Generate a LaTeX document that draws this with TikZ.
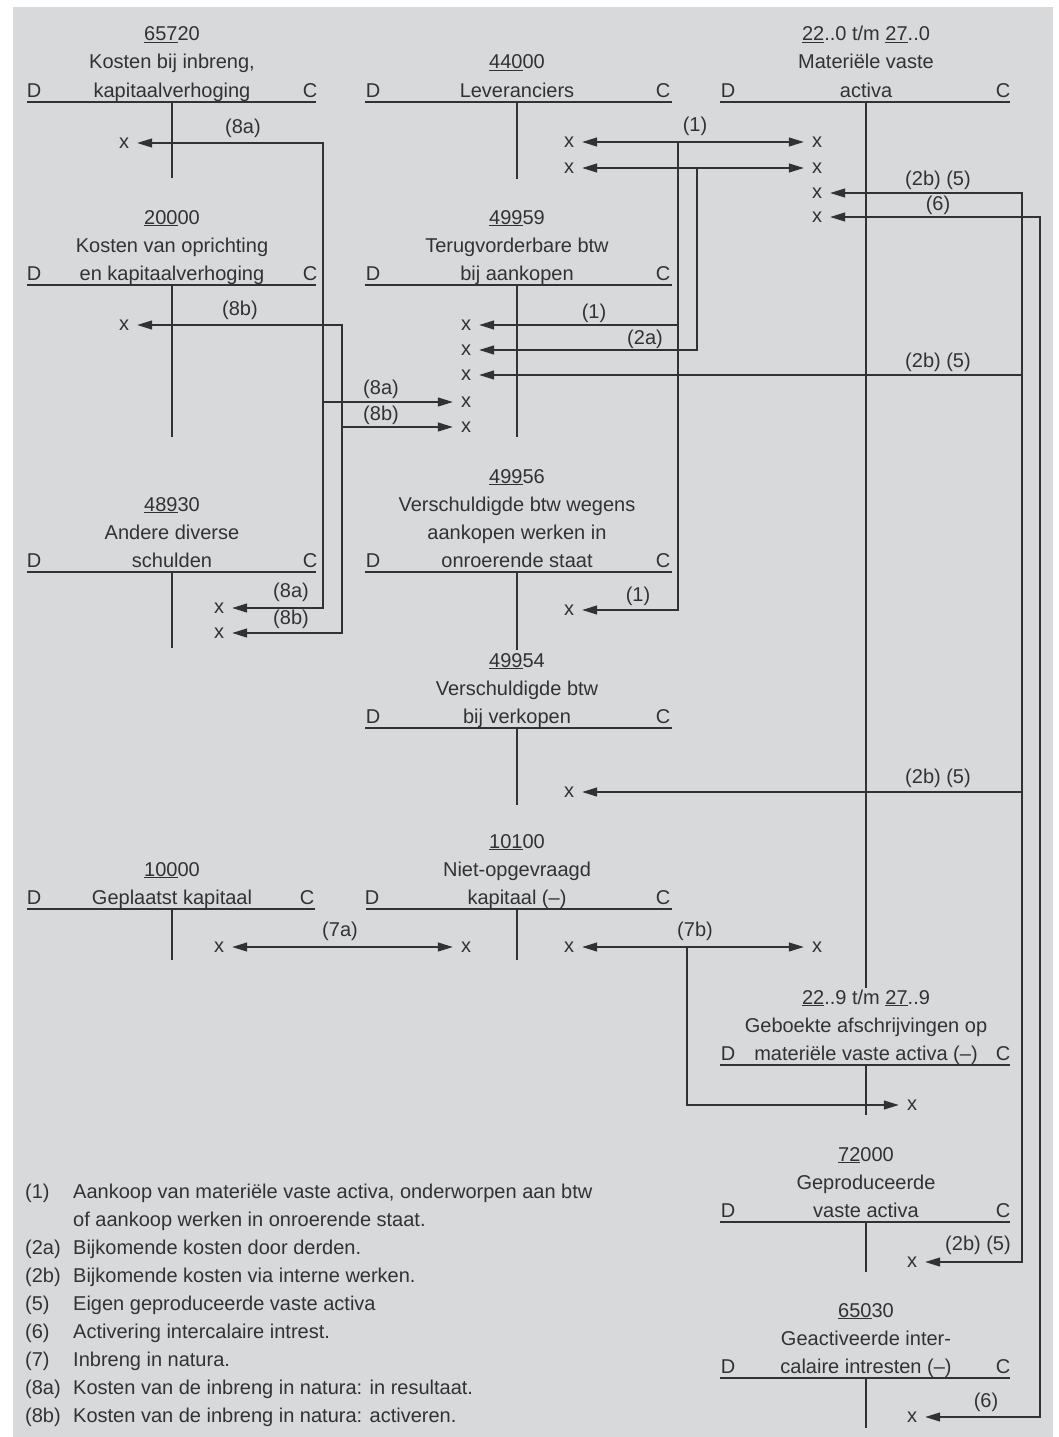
\documentclass[tikz,border=0pt]{standalone}
\usepackage{fontspec}
\setmainfont{Liberation Sans}
\usetikzlibrary{arrows.meta}
\definecolor{bg}{RGB}{216,217,219}
\definecolor{ink}{RGB}{50,50,50}
\begin{document}
\begin{tikzpicture}[x=1pt,y=-1pt,font=\fontsize{20}{28}\selectfont,
  txt/.style={anchor=base,inner sep=0pt,text=ink},
  leg/.style={anchor=base west,inner sep=0pt,text=ink},
  xm/.style={inner xsep=8pt,inner ysep=2pt,text=ink},
  lab/.style={inner sep=0pt,text=ink},
  tl/.style={draw=ink,line width=1.2pt},
  ar/.style={draw=ink,line width=1.2pt,-{Triangle[length=15pt,width=9pt]}},
  dar/.style={draw=ink,line width=1.2pt,{Triangle[length=15pt,width=9pt]}-{Triangle[length=15pt,width=9pt]}}]
\useasboundingbox (0,0) rectangle (1058,1437);
\fill[bg] (13,7) rectangle (1053,1437);

% ---------- 65720
\node[txt] (n65720) at (172,41) {\underline{657}20};
\node[txt] (a65720) at (172,69) {Kosten bij inbreng,};
\node[txt] (b65720) at (172,97) {kapitaalverhoging};
\node[txt] (d65720) at (34,97) {D};
\node[txt] (c65720) at (310,97) {C};
\draw[tl] (27,102) -- (316,102) (172,102) -- (172,178);

% ---------- 44000
\node[txt] (n44000) at (517,69) {\underline{440}00};
\node[txt] (a44000) at (517,97) {Leveranciers};
\node[txt] (d44000) at (373,97) {D};
\node[txt] (c44000) at (663,97) {C};
\draw[tl] (365,102) -- (672,102) (517,102) -- (517,179);

% ---------- 22..0 t/m 27..0
\node[txt] (n2200) at (866,41) {\underline{22}..0 t/m \underline{27}..0};
\node[txt] (a2200) at (866,69) {Materiële vaste};
\node[txt] (b2200) at (866,97) {activa};
\node[txt] (d2200) at (728,97) {D};
\node[txt] (c2200) at (1003,97) {C};
\draw[tl] (720,102) -- (1010,102) (866,102) -- (866,988);

% ---------- 20000
\node[txt] (n20000) at (172,224) {\underline{200}00};
\node[txt] (a20000) at (172,252) {Kosten van oprichting};
\node[txt] (b20000) at (172,280) {en kapitaalverhoging};
\node[txt] (d20000) at (34,280) {D};
\node[txt] (c20000) at (310,280) {C};
\draw[tl] (27,285) -- (316,285) (172,285) -- (172,437);

% ---------- 49959
\node[txt] (n49959) at (517,224) {\underline{499}59};
\node[txt] (a49959) at (517,252) {Terugvorderbare btw};
\node[txt] (b49959) at (517,280) {bij aankopen};
\node[txt] (d49959) at (373,280) {D};
\node[txt] (c49959) at (663,280) {C};
\draw[tl] (365,285) -- (672,285) (517,285) -- (517,437);

% ---------- 48930
\node[txt] (n48930) at (172,511) {\underline{489}30};
\node[txt] (a48930) at (172,539) {Andere diverse};
\node[txt] (b48930) at (172,567) {schulden};
\node[txt] (d48930) at (34,567) {D};
\node[txt] (c48930) at (310,567) {C};
\draw[tl] (27,572) -- (316,572) (172,572) -- (172,648);

% ---------- 49956
\node[txt] (n49956) at (517,483) {\underline{499}56};
\node[txt] (a49956) at (517,511) {Verschuldigde btw wegens};
\node[txt] (b49956) at (517,539) {aankopen werken in};
\node[txt] (e49956) at (517,567) {onroerende staat};
\node[txt] (d49956) at (373,567) {D};
\node[txt] (c49956) at (663,567) {C};
\draw[tl] (365,572) -- (672,572) (517,572) -- (517,650);

% ---------- 49954
\node[txt] (n49954) at (517,667) {\underline{499}54};
\node[txt] (a49954) at (517,695) {Verschuldigde btw};
\node[txt] (b49954) at (517,723) {bij verkopen};
\node[txt] (d49954) at (373,723) {D};
\node[txt] (c49954) at (663,723) {C};
\draw[tl] (365,728) -- (672,728) (517,728) -- (517,805);

% ---------- 10000
\node[txt] (n10000) at (172,876) {\underline{100}00};
\node[txt] (a10000) at (172,904) {Geplaatst kapitaal};
\node[txt] (d10000) at (34,904) {D};
\node[txt] (c10000) at (307,904) {C};
\draw[tl] (27,909) -- (315,909) (172,909) -- (172,960);

% ---------- 10100
\node[txt] (n10100) at (517,848) {\underline{101}00};
\node[txt] (a10100) at (517,876) {Niet-opgevraagd};
\node[txt] (b10100) at (517,904) {kapitaal (–)};
\node[txt] (d10100) at (372,904) {D};
\node[txt] (c10100) at (663,904) {C};
\draw[tl] (366,909) -- (672,909) (517,909) -- (517,960);

% ---------- 22..9 t/m 27..9
\node[txt] (n2209) at (866,1004) {\underline{22}..9 t/m \underline{27}..9};
\node[txt] (a2209) at (866,1032) {Geboekte afschrijvingen op};
\node[txt] (b2209) at (866,1060) {materiële vaste activa (–)};
\node[txt] (d2209) at (728,1060) {D};
\node[txt] (c2209) at (1003,1060) {C};
\draw[tl] (720,1065) -- (1010,1065) (866,1065) -- (866,1115);

% ---------- 72000
\node[txt] (n72000) at (866,1161) {\underline{72}000};
\node[txt] (a72000) at (866,1189) {Geproduceerde};
\node[txt] (b72000) at (866,1217) {vaste activa};
\node[txt] (d72000) at (728,1217) {D};
\node[txt] (c72000) at (1003,1217) {C};
\draw[tl] (720,1222) -- (1010,1222) (866,1222) -- (866,1272);

% ---------- 65030
\node[txt] (n65030) at (866,1317) {\underline{650}30};
\node[txt] (a65030) at (866,1345) {Geactiveerde inter-};
\node[txt] (b65030) at (866,1373) {calaire intresten (–)};
\node[txt] (d65030) at (728,1373) {D};
\node[txt] (c65030) at (1003,1373) {C};
\draw[tl] (720,1378) -- (1010,1378) (866,1378) -- (866,1428);

% ---------- x markers
\node[xm] (x65720) at (124,143) {x};
\node[xm] (x44000a) at (569,142) {x};
\node[xm] (x44000b) at (569,168) {x};
\node[xm] (x2200a) at (817,142) {x};
\node[xm] (x2200b) at (817,168) {x};
\node[xm] (x2200c) at (817,193) {x};
\node[xm] (x2200d) at (817,217) {x};
\node[xm] (x2200e) at (817,947) {x};
\node[xm] (x20000) at (124,325) {x};
\node[xm] (x49959a) at (466,325) {x};
\node[xm] (x49959b) at (466,350) {x};
\node[xm] (x49959c) at (466,375) {x};
\node[xm] (x49959d) at (466,402) {x};
\node[xm] (x49959e) at (466,427) {x};
\node[xm] (x48930a) at (219,608) {x};
\node[xm] (x48930b) at (219,633) {x};
\node[xm] (x49956) at (569,610) {x};
\node[xm] (x49954) at (569,792) {x};
\node[xm] (x10000) at (219,947) {x};
\node[xm] (x10100a) at (466,947) {x};
\node[xm] (x10100b) at (569,947) {x};
\node[xm] (x2209) at (912,1105) {x};
\node[xm] (x72000) at (912,1262) {x};
\node[xm] (x65030) at (912,1417) {x};

% ---------- junction coordinates
\coordinate (j8a1) at (323,143);
\coordinate (j8a2) at (323,608);
\coordinate (j8a3) at (323,402);
\coordinate (j8b1) at (342,325);
\coordinate (j8b2) at (342,633);
\coordinate (j8b3) at (342,427);
\coordinate (j1a) at (678,142);
\coordinate (j1b) at (678,610);
\coordinate (j1c) at (678,325);
\coordinate (j2a1) at (697,168);
\coordinate (j2a2) at (697,350);
\coordinate (j25a) at (1022,193);
\coordinate (j25b) at (1022,1262);
\coordinate (j25c) at (1022,375);
\coordinate (j25d) at (1022,792);
\coordinate (j6a) at (1040,217);
\coordinate (j6b) at (1040,1417);
\coordinate (j7b1) at (687,947);
\coordinate (j7b2) at (687,1105);

% ---------- connectors
\draw[dar] (x65720) -- (j8a1) -- (j8a2) -- (x48930a);
\draw[ar] (j8a3) -- (x49959d);
\draw[dar] (x20000) -- (j8b1) -- (j8b2) -- (x48930b);
\draw[ar] (j8b3) -- (x49959e);
\draw[dar] (x44000a) -- (x2200a);
\draw[ar] (j1a) -- (j1b) -- (x49956);
\draw[ar] (j1c) -- (x49959a);
\draw[dar] (x44000b) -- (x2200b);
\draw[ar] (j2a1) -- (j2a2) -- (x49959b);
\draw[dar] (x2200c) -- (j25a) -- (j25b) -- (x72000);
\draw[ar] (j25c) -- (x49959c);
\draw[ar] (j25d) -- (x49954);
\draw[dar] (x2200d) -- (j6a) -- (j6b) -- (x65030);
\draw[dar] (x10000) -- (x10100a);
\draw[dar] (x10100b) -- (x2200e);
\draw[ar] (j7b1) -- (j7b2) -- (x2209);

% ---------- connector labels
\node[lab] (l8a1) at (243,128) {(8a)};
\node[lab] (l8b1) at (240,310) {(8b)};
\node[lab] (l1a) at (695,126) {(1)};
\node[lab] (l25a) at (938,180) {(2b) (5)};
\node[lab] (l6a) at (938,205) {(6)};
\node[lab] (l1b) at (594,313) {(1)};
\node[lab] (l2a) at (645,339) {(2a)};
\node[lab] (l25b) at (938,362) {(2b) (5)};
\node[lab] (l8a2) at (381,389) {(8a)};
\node[lab] (l8b2) at (381,415) {(8b)};
\node[lab] (l8a3) at (291,592) {(8a)};
\node[lab] (l8b3) at (291,619) {(8b)};
\node[lab] (l1c) at (638,596) {(1)};
\node[lab] (l25c) at (938,778) {(2b) (5)};
\node[lab] (l7a) at (340,931) {(7a)};
\node[lab] (l7b) at (695,931) {(7b)};
\node[lab] (l25d) at (978,1245) {(2b) (5)};
\node[lab] (l6b) at (986,1402) {(6)};

% ---------- legend
\node[leg] (k1) at (25,1198) {(1)};
\node[leg] (v1) at (73,1198) {Aankoop van materiële vaste activa, onderworpen aan btw};
\node[leg] (v1b) at (73,1226) {of aankoop werken in onroerende staat.};
\node[leg] (k2a) at (25,1254) {(2a)};
\node[leg] (v2a) at (73,1254) {Bijkomende kosten door derden.};
\node[leg] (k2b) at (25,1282) {(2b)};
\node[leg] (v2b) at (73,1282) {Bijkomende kosten via interne werken.};
\node[leg] (k5) at (25,1310) {(5)};
\node[leg] (v5) at (73,1310) {Eigen geproduceerde vaste activa};
\node[leg] (k6) at (25,1338) {(6)};
\node[leg] (v6) at (73,1338) {Activering intercalaire intrest.};
\node[leg] (k7) at (25,1366) {(7)};
\node[leg] (v7) at (73,1366) {Inbreng in natura.};
\node[leg] (k8a) at (25,1394) {(8a)};
\node[leg] (v8a) at (73,1394) {Kosten van de inbreng in natura: in resultaat.};
\node[leg] (k8b) at (25,1422) {(8b)};
\node[leg] (v8b) at (73,1422) {Kosten van de inbreng in natura: activeren.};
\end{tikzpicture}
\end{document}
